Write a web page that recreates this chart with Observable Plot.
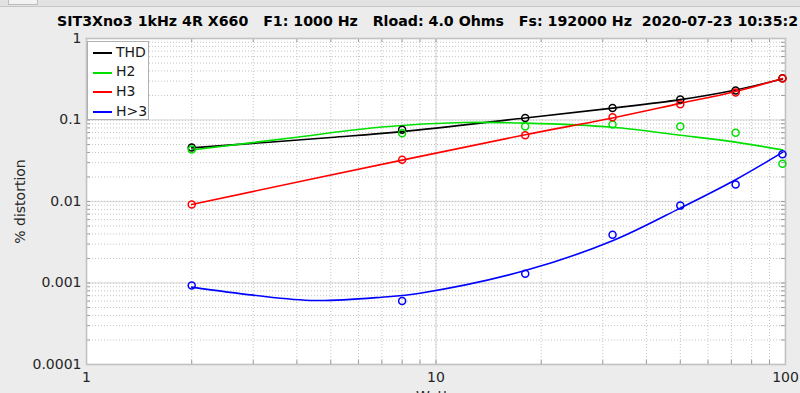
<!DOCTYPE html>
<html><head><meta charset="utf-8">
<script src="https://cdn.jsdelivr.net/npm/d3@7"></script>
<script src="https://cdn.jsdelivr.net/npm/@observablehq/plot@0.6"></script>
<style>
html,body{margin:0;padding:0;background:#ececec;overflow:hidden;width:800px;height:393px;}
#wrap{position:relative;width:800px;height:393px;overflow:hidden;}
#topbar{position:absolute;left:0;top:0;width:800px;height:6px;background:#e2e2e2;border-bottom:1px solid #c6c6c6;}
#tab{position:absolute;left:8px;top:0;width:28px;height:4px;background:#f2f2f2;border:1px solid #bdbdbd;border-top:none;}
#title{position:absolute;left:57px;top:14px;font:bold 14.2px "DejaVu Sans";line-height:14px;white-space:pre;color:#000;}
#legend{position:absolute;left:87px;top:41px;width:62px;height:79px;background:#fff;border:1px solid #b0b0b0;box-sizing:border-box;font:14px "DejaVu Sans";color:#1a1a1a;}
.row{position:absolute;left:0;height:19.7px;line-height:19.7px;width:60px;}
.sw{position:absolute;left:5px;top:9.5px;width:19px;height:0;border-top:2px solid #000;}
.lb{position:absolute;left:28px;top:0;}
svg{position:absolute;left:0;top:0;}
</style>
</head><body>
<div id="wrap"></div>
<script>
// ---- data ----
const watts = [2, 8, 18, 32, 50, 72, 98];
const thd  = [0.046, 0.0758, 0.106, 0.140, 0.179, 0.230, 0.326];
const h2   = [0.0435, 0.069, 0.0832, 0.088, 0.083, 0.0697, 0.029];
const h3   = [0.0092, 0.0325, 0.065, 0.108, 0.156, 0.217, 0.323];
const hgt3 = [0.00093, 0.0006, 0.0013, 0.0039, 0.0089, 0.0162, 0.038];

// fitted curves
const thdFitW = [2, 5, 8, 18, 32, 50, 72, 98];
const thdFitV = [0.0455, 0.061, 0.072, 0.106, 0.140, 0.178, 0.234, 0.318];
const h2FitW = [2, 4, 7, 12, 18, 32, 50, 72, 98];
const h2FitV = [0.0428, 0.0615, 0.082, 0.093, 0.0915, 0.0816, 0.065, 0.0535, 0.043];
const h3FitW = [2, 8, 18, 32, 50, 72, 98];
const h3FitV = [0.0092, 0.0322, 0.066, 0.106, 0.160, 0.224, 0.323];
const hgt3FitW = [2, 3, 4.5, 7, 9, 18, 32, 50, 72, 98];
const hgt3FitV = [0.00089, 0.00071, 0.00061, 0.00067, 0.00075, 0.00142, 0.0033, 0.0083, 0.0185, 0.040];

const seriesNames = ["THD", "H2", "H3", "H>3"];
const seriesColors = ["#000000", "#00e000", "#ff0000", "#0000ff"];

const xTicks = [1, 10, 100];
const xTickLabels = ["1", "10", "100"];
const yTicks = [1, 0.1, 0.01, 0.001, 0.0001];
const yTickLabels = ["1", "0.1", "0.01", "0.001", "0.0001"];

const titleText = "SIT3Xno3 1kHz 4R X660   F1: 1000 Hz   Rload: 4.0 Ohms   Fs: 192000 Hz  2020-07-23 10:35:2";

// ---- build tables ----
const pts = [], fits = [];
const allV = [thd, h2, h3, hgt3];
const allFW = [thdFitW, h2FitW, h3FitW, hgt3FitW];
const allFV = [thdFitV, h2FitV, h3FitV, hgt3FitV];
seriesNames.forEach((s, i) => {
  watts.forEach((w, j) => pts.push({s, w, v: allV[i][j]}));
  allFW[i].forEach((w, j) => fits.push({s, w, v: allFV[i][j]}));
});

const xMinor = [], yMinor = [];
for (let d = 1; d < 100; d *= 10) for (let k = 2; k <= 9; k++) xMinor.push(d * k);
for (let d = 0.0001; d < 1; d *= 10) for (let k = 2; k <= 9; k++) yMinor.push(+(d * k).toPrecision(3));
const xAll = xMinor.concat(xTicks), yAll = yMinor.concat(yTicks);

const W = 800, H = 393, mL = 86, mR = 15, mT = 38, mB = 29;
const pw = W - mL - mR, ph = H - mT - mB;
const tickLen = 4;

const chart = Plot.plot({
  width: W, height: H,
  marginLeft: mL, marginRight: mR, marginTop: mT, marginBottom: mB,
  style: {fontFamily: "DejaVu Sans", fontSize: "14px", background: "transparent", color: "#262626"},
  x: {type: "log", domain: [1, 100]},
  y: {type: "log", domain: [0.0001, 1]},
  color: {domain: seriesNames, range: seriesColors},
  marks: [
    Plot.frame({fill: "white", stroke: null}),
    Plot.gridX(xTicks, {stroke: "#e4e4e4", strokeOpacity: 1, strokeWidth: 1.5}),
    Plot.gridY(yTicks, {stroke: "#e4e4e4", strokeOpacity: 1, strokeWidth: 1.5}),
    Plot.gridX(xAll, {stroke: "#c4c4c4", strokeOpacity: 1, strokeDasharray: "1,2"}),
    Plot.gridY(yAll, {stroke: "#c4c4c4", strokeOpacity: 1, strokeDasharray: "1,2"}),
    Plot.ruleX(xAll, {x: d => d, insetTop: ph - tickLen, stroke: "#9a9a9a"}),
    Plot.ruleX(xAll, {x: d => d, insetBottom: ph - tickLen, stroke: "#9a9a9a"}),
    Plot.ruleY(yAll, {y: d => d, insetRight: pw - tickLen, stroke: "#9a9a9a"}),
    Plot.ruleY(yAll, {y: d => d, insetLeft: pw - tickLen, stroke: "#9a9a9a"}),
    Plot.frame({stroke: "#c2c2c2", strokeWidth: 1.5}),
    Plot.line(fits, {x: "w", y: "v", z: "s", stroke: "s", strokeWidth: 1.6, curve: "catmull-rom"}),
    Plot.dot(pts, {x: "w", y: "v", stroke: "s", r: 3.5, strokeWidth: 1.5, fill: "none"}),
    Plot.axisX(xTicks, {tickSize: 0, tickPadding: 8, fontSize: 14, fill: "#262626",
      tickFormat: d => xTickLabels[xTicks.indexOf(d)],
      label: "Watts", labelAnchor: "center", labelOffset: 36, labelArrow: "none"}),
    Plot.axisY(yTicks, {tickSize: 0, tickPadding: 5, fontSize: 14, fill: "#262626",
      tickFormat: d => yTickLabels[yTicks.indexOf(d)],
      label: "% distortion", labelAnchor: "center", labelOffset: 71, labelArrow: "none"})
  ]
});

const wrap = document.getElementById("wrap");
wrap.appendChild(chart);

const topBar = document.createElement("div"); topBar.id = "topbar"; wrap.appendChild(topBar);
const tabBox = document.createElement("div"); tabBox.id = "tab"; wrap.appendChild(tabBox);
const titleDiv = document.createElement("div"); titleDiv.id = "title"; titleDiv.textContent = titleText; wrap.appendChild(titleDiv);

const lg = document.createElement("div"); lg.id = "legend";
seriesNames.forEach((s, i) => {
  const r = document.createElement("div"); r.className = "row"; r.style.top = (0.5 + i * 19.7) + "px";
  const sw = document.createElement("div"); sw.className = "sw"; sw.style.borderTopColor = seriesColors[i];
  const lb = document.createElement("div"); lb.className = "lb"; lb.textContent = s;
  r.appendChild(sw); r.appendChild(lb); lg.appendChild(r);
});
wrap.appendChild(lg);
</script>
</body></html>
